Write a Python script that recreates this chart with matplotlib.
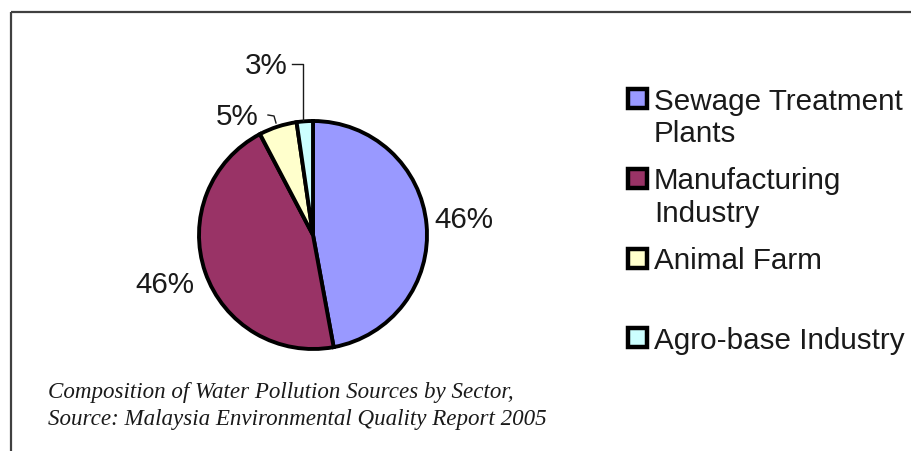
import matplotlib
matplotlib.use("Agg")
import matplotlib.pyplot as plt
from matplotlib.patches import Rectangle

# ---- data ----
categories = ["Sewage Treatment\nPlants", "Manufacturing\nIndustry", "Animal Farm", "Agro-base Industry"]
shares = [47.1, 45.2, 5.4, 2.3]
pct_labels = ["46%", "46%", "5%", "3%"]
colors = ["#9999FF", "#993366", "#FFFFCC", "#CCFFFF"]
caption = ["Composition of Water Pollution Sources by Sector,",
           "Source: Malaysia Environmental Quality Report 2005"]

W, H = 912, 452
fig = plt.figure(figsize=(W / 100, H / 100), dpi=100)
ax = fig.add_axes([0, 0, 1, 1])

# pie in pixel coordinates (y axis inverted, so counterclock=True appears clockwise)
wedges, _ = ax.pie(shares, colors=colors, startangle=-90, counterclock=True,
                   center=(313, 236), radius=114, frame=True,
                   wedgeprops=dict(edgecolor="black", linewidth=2.8))
ax.set_xlim(0, W)
ax.set_ylim(H, 0)
ax.set_aspect("equal")
ax.axis("off")

txt = dict(family="Liberation Sans", fontsize=21.3, color="#1a1a1a")

# percentage labels
ax.text(434, 228, pct_labels[0], ha="left", va="baseline", **txt)
ax.text(194, 293, pct_labels[1], ha="right", va="baseline", **txt)
ax.text(259, 125, pct_labels[2], ha="right", va="baseline", **txt)
ax.text(288, 74, pct_labels[3], ha="right", va="baseline", **txt)

# leader lines
ax.plot([292, 303, 303], [65, 65, 121], color="#1a1a1a", lw=1.0)
ax.plot([268, 274, 276], [116, 117, 124], color="#1a1a1a", lw=1.0)

# legend (manual, Excel-style)
leg_y = [99.5, 179.5, 259.5, 339]
for yc, col, lab in zip(leg_y, colors, categories):
    ax.add_patch(Rectangle((628, yc - 10), 19, 19, facecolor=col,
                           edgecolor="black", linewidth=3.2, zorder=3))
    lines = lab.split("\n")
    for i, ln in enumerate(lines):
        ax.text(654, yc + 10 + 33 * i, ln, ha="left", va="baseline", **txt)

# caption
cap = dict(family="Liberation Serif", style="italic", fontsize=16.6, color="#1a1a1a")
ax.text(48, 398, caption[0], ha="left", va="baseline", **cap)
ax.text(48, 425, caption[1], ha="left", va="baseline", **cap)

# border lines (top and left)
ax.plot([11, W], [13, 13], color="#404040", lw=1.6, solid_capstyle="butt")
ax.plot([11, 11], [13, H], color="#404040", lw=1.6, solid_capstyle="butt")

fig.savefig("out.png", dpi=100)
